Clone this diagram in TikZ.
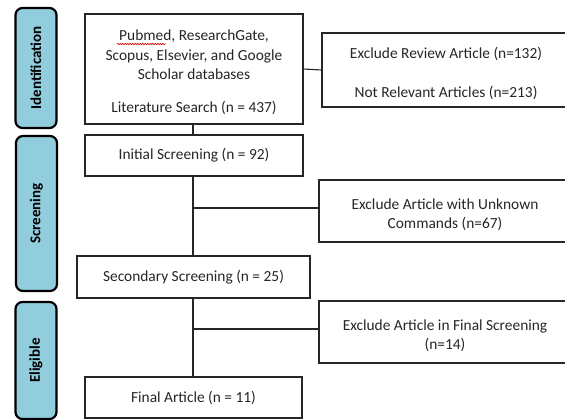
\documentclass[tikz,border=0pt]{standalone}
\usepackage{fontspec}
\setmainfont{Carlito}
\usetikzlibrary{decorations.pathmorphing}
\definecolor{sideblue}{RGB}{146,205,222}
\definecolor{txt}{RGB}{38,38,38}
\begin{document}
\begin{tikzpicture}[x=1pt,y=-1pt,
  side/.style={draw=black,line width=2.2pt,fill=sideblue,rounded corners=7pt,
    minimum width=41pt,inner sep=0pt},
  sidetext/.style={font=\fontsize{15}{17}\selectfont\bfseries,text=black,rotate=90},
  boxx/.style={draw=black!85,line width=1.1pt,fill=white,inner sep=0pt,align=center,
    text=txt,font=\fontsize{15.4}{19.5}\selectfont},
  conn/.style={draw=black!85,line width=1.1pt}]
\useasboundingbox (0,0) rectangle (565,420);
% side labels
\node[side,minimum height=120pt] (sid) at (36,68) {};
\node[sidetext] at (sid.center) {Identification};
\node[side,minimum height=155pt] (ssc) at (36.5,213.5) {};
\node[sidetext] at (ssc.center) {Screening};
\node[side,minimum height=117pt] (sel) at (36,360.5) {};
\node[sidetext] at (sel.center) {Eligible};
% main boxes
\node[boxx,minimum width=218pt,minimum height=110pt] (lit) at (194,69)
  {\rule{0pt}{18pt}Pubmed, ResearchGate,\\ Scopus, Elsevier, and Google\\ Scholar databases\\[13.5pt] Literature Search (n = 437)};
\node[boxx,minimum width=248pt,minimum height=74pt] (ex1) at (446,70)
  {\rule{0pt}{18pt}Exclude Review Article (n=132)\\[19.5pt] Not Relevant Articles (n=213)};
\node[boxx,minimum width=218pt,minimum height=41pt] (ini) at (194,155.5) {Initial Screening (n = 92)};
\node[boxx,minimum width=252pt,minimum height=62pt] (ex2) at (445,211)
  {\rule{0pt}{18pt}Exclude Article with Unknown\\ Commands (n=67)};
\node[boxx,minimum width=233pt,minimum height=42pt] (sec) at (193.5,277) {Secondary Screening (n = 25)};
\node[boxx,minimum width=252pt,minimum height=62pt] (ex3) at (445,332)
  {\rule{0pt}{18pt}Exclude Article in Final Screening\\ (n=14)};
\node[boxx,minimum width=217pt,minimum height=41pt] (fin) at (193.5,397.5) {Final Article (n = 11)};
% connectors
\coordinate (b2) at (193,208);
\coordinate (b3) at (193,329);
\draw[conn] (lit.east) -- (ex1.west);
\draw[conn] (lit.south -| b2) -- (ini.north -| b2);
\draw[conn] (ini.south -| b2) -- (sec.north -| b2);
\draw[conn] (sec.south -| b2) -- (fin.north -| b2);
\draw[conn] (b2) -- (b2 -| ex2.west);
\draw[conn] (b3) -- (b3 -| ex3.west);
% spell-check squiggle
\draw[red!85!black,line width=0.6pt,decorate,decoration={snake,amplitude=0.7pt,segment length=2.5pt}]
  (117,44) -- (166,44);
\end{tikzpicture}
\end{document}
